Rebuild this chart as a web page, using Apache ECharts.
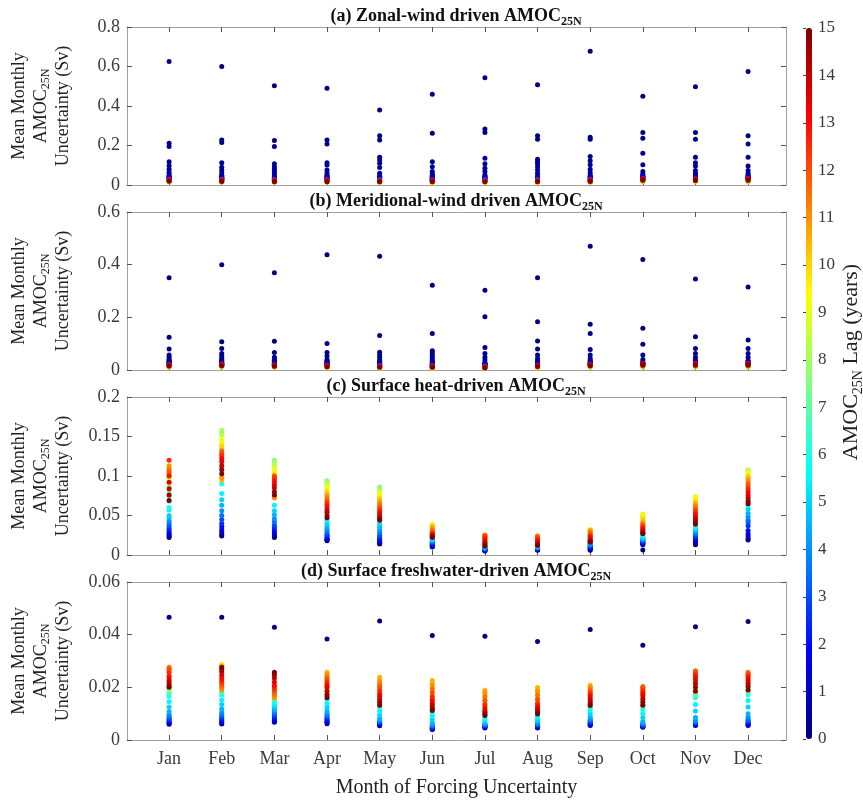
<!DOCTYPE html>
<html>
<head>
<meta charset="utf-8">
<script src="https://cdn.jsdelivr.net/npm/echarts@6/dist/echarts.min.js"></script>
<style>html,body{margin:0;padding:0;background:#fff}#c{width:863px;height:800px}</style>
</head>
<body>
<div id="c"></div>
<script>
const MONTHS = ['Jan','Feb','Mar','Apr','May','Jun','Jul','Aug','Sep','Oct','Nov','Dec'];
const MONTH_POS = [1,2,3,4,5,6,7,8,9,10,11,12];
const LAG_TICKS = [0,1,2,3,4,5,6,7,8,9,10,11,12,13,14,15];
// lags (years) for panels a, b
const LAG_AB = [0,0.08,0.17,0.25,0.33,0.42,0.5,0.58,0.67,0.75,0.83,0.92,1,2,3,4,5,6,7,8,9,10,11,12,13,14,15];
// lags (years) for panels c, d
const LAG_CD = [0,0.5,1,1.5,2,2.5,3,3.5,4,4.5,5,5.5,6,6.5,7,7.5,8,8.5,9,9.5,10,10.5,11,11.5,12,12.5,13,13.5,14,14.5,15];

const ZONAL = [
 [0.625,0.212,0.195,0.118,0.098,0.080,0.064,0.051,0.045,0.041,0.038,0.036,0.034,0.031,0.028,0.025,0.020,0.019,0.019,0.020,0.021,0.016,0.020,0.024,0.028,0.025,0.019],
 [0.600,0.228,0.215,0.113,0.090,0.076,0.062,0.049,0.045,0.041,0.038,0.036,0.034,0.031,0.028,0.025,0.019,0.018,0.018,0.019,0.020,0.015,0.019,0.023,0.027,0.024,0.018],
 [0.502,0.225,0.195,0.107,0.093,0.080,0.068,0.056,0.047,0.042,0.039,0.036,0.034,0.030,0.027,0.024,0.018,0.017,0.017,0.018,0.019,0.014,0.018,0.022,0.025,0.022,0.017],
 [0.490,0.228,0.208,0.113,0.101,0.076,0.062,0.051,0.045,0.041,0.038,0.036,0.034,0.030,0.027,0.024,0.018,0.017,0.017,0.018,0.019,0.014,0.018,0.022,0.026,0.023,0.017],
 [0.380,0.249,0.228,0.140,0.127,0.110,0.088,0.059,0.046,0.042,0.039,0.036,0.034,0.030,0.027,0.024,0.017,0.016,0.016,0.017,0.018,0.013,0.017,0.020,0.023,0.020,0.016],
 [0.460,0.262,0.118,0.093,0.068,0.056,0.048,0.044,0.041,0.038,0.036,0.034,0.032,0.029,0.026,0.023,0.017,0.016,0.016,0.017,0.018,0.013,0.017,0.021,0.024,0.021,0.016],
 [0.543,0.283,0.266,0.135,0.107,0.085,0.068,0.051,0.045,0.041,0.038,0.036,0.034,0.030,0.027,0.024,0.017,0.016,0.016,0.017,0.018,0.013,0.017,0.020,0.023,0.020,0.016],
 [0.508,0.249,0.232,0.130,0.118,0.107,0.093,0.076,0.059,0.046,0.040,0.036,0.034,0.030,0.027,0.024,0.017,0.016,0.016,0.017,0.018,0.013,0.017,0.020,0.023,0.020,0.016],
 [0.677,0.242,0.232,0.144,0.123,0.102,0.080,0.062,0.051,0.044,0.040,0.037,0.034,0.030,0.027,0.024,0.018,0.017,0.017,0.018,0.019,0.014,0.018,0.023,0.027,0.023,0.018],
 [0.450,0.266,0.237,0.161,0.102,0.068,0.056,0.048,0.044,0.041,0.038,0.036,0.034,0.031,0.028,0.025,0.021,0.020,0.020,0.021,0.022,0.016,0.021,0.027,0.033,0.030,0.024],
 [0.497,0.266,0.232,0.140,0.113,0.096,0.073,0.059,0.049,0.044,0.040,0.037,0.035,0.031,0.028,0.025,0.021,0.020,0.020,0.021,0.022,0.016,0.021,0.027,0.032,0.029,0.023],
 [0.575,0.249,0.208,0.140,0.096,0.073,0.059,0.050,0.045,0.041,0.038,0.036,0.034,0.031,0.028,0.025,0.021,0.020,0.020,0.021,0.022,0.016,0.021,0.027,0.033,0.030,0.024]
];

const MERID = [
 [0.350,0.124,0.080,0.057,0.048,0.040,0.035,0.032,0.029,0.027,0.025,0.023,0.022,0.020,0.018,0.016,0.014,0.013,0.013,0.014,0.015,0.011,0.014,0.017,0.021,0.019,0.015],
 [0.400,0.107,0.082,0.063,0.053,0.044,0.038,0.034,0.031,0.028,0.026,0.024,0.022,0.020,0.018,0.016,0.015,0.014,0.014,0.015,0.016,0.012,0.015,0.019,0.023,0.020,0.016],
 [0.369,0.109,0.066,0.048,0.040,0.036,0.033,0.030,0.028,0.026,0.024,0.022,0.021,0.019,0.017,0.015,0.013,0.012,0.012,0.013,0.014,0.010,0.013,0.016,0.020,0.018,0.014],
 [0.438,0.101,0.066,0.053,0.040,0.035,0.032,0.029,0.027,0.025,0.023,0.022,0.021,0.019,0.017,0.015,0.012,0.011,0.011,0.012,0.013,0.009,0.012,0.015,0.018,0.016,0.012],
 [0.432,0.131,0.067,0.057,0.048,0.038,0.033,0.030,0.027,0.025,0.023,0.021,0.020,0.018,0.016,0.014,0.010,0.009,0.009,0.010,0.011,0.007,0.010,0.012,0.015,0.013,0.010],
 [0.322,0.139,0.073,0.066,0.057,0.048,0.040,0.034,0.030,0.027,0.024,0.022,0.020,0.018,0.016,0.014,0.010,0.009,0.009,0.010,0.011,0.007,0.010,0.012,0.015,0.013,0.010],
 [0.303,0.202,0.085,0.063,0.048,0.038,0.028,0.026,0.024,0.022,0.021,0.020,0.019,0.017,0.015,0.013,0.009,0.008,0.008,0.009,0.010,0.006,0.008,0.010,0.013,0.011,0.008],
 [0.350,0.183,0.110,0.080,0.057,0.044,0.034,0.030,0.027,0.025,0.023,0.022,0.021,0.019,0.017,0.015,0.012,0.011,0.011,0.012,0.013,0.009,0.012,0.015,0.019,0.017,0.013],
 [0.470,0.174,0.139,0.078,0.057,0.044,0.036,0.032,0.029,0.027,0.025,0.023,0.022,0.020,0.018,0.016,0.014,0.013,0.013,0.014,0.015,0.011,0.014,0.018,0.022,0.020,0.016],
 [0.420,0.159,0.098,0.057,0.040,0.031,0.028,0.026,0.024,0.023,0.022,0.021,0.020,0.018,0.016,0.014,0.015,0.014,0.014,0.015,0.016,0.012,0.015,0.020,0.025,0.023,0.018],
 [0.346,0.126,0.082,0.063,0.048,0.038,0.033,0.030,0.028,0.026,0.024,0.022,0.021,0.019,0.017,0.015,0.015,0.014,0.014,0.015,0.016,0.012,0.015,0.020,0.025,0.023,0.018],
 [0.315,0.114,0.082,0.063,0.048,0.036,0.032,0.029,0.027,0.025,0.023,0.022,0.021,0.019,0.017,0.015,0.015,0.014,0.014,0.015,0.016,0.012,0.015,0.020,0.025,0.023,0.018]
];

const HEAT = [
 [0.022,0.024,0.026,0.028,0.031,0.034,0.037,0.040,0.043,0.047,0.050,0.057,0.060,0.068,0.074,0.080,0.086,0.092,0.097,0.102,0.106,0.110,0.113,0.108,0.104,0.120,0.100,0.092,0.084,0.076,0.069],
 [0.024,0.026,0.029,0.032,0.036,0.040,0.045,0.050,0.056,0.063,0.070,0.078,0.090,0.110,0.135,0.155,0.158,0.152,0.146,0.142,0.138,0.095,0.098,0.132,0.129,0.126,0.122,0.118,0.113,0.108,0.103],
 [0.022,0.024,0.026,0.029,0.032,0.035,0.038,0.042,0.046,0.051,0.056,0.063,0.075,0.095,0.112,0.120,0.118,0.114,0.110,0.106,0.102,0.074,0.072,0.098,0.100,0.097,0.093,0.089,0.085,0.080,0.076],
 [0.018,0.019,0.020,0.021,0.023,0.025,0.027,0.030,0.033,0.036,0.040,0.044,0.055,0.075,0.090,0.094,0.092,0.089,0.086,0.083,0.080,0.077,0.074,0.071,0.068,0.065,0.062,0.058,0.054,0.050,0.047],
 [0.014,0.015,0.016,0.018,0.020,0.022,0.025,0.028,0.031,0.035,0.039,0.043,0.052,0.070,0.082,0.086,0.084,0.081,0.078,0.075,0.072,0.069,0.066,0.063,0.060,0.057,0.054,0.051,0.048,0.046,0.044],
 [0.010,0.011,0.012,0.013,0.014,0.015,0.016,0.017,0.018,0.019,0.020,0.021,0.023,0.027,0.031,0.034,0.036,0.038,0.039,0.038,0.037,0.035,0.033,0.031,0.029,0.027,0.026,0.025,0.024,0.023,0.022],
 [0.005,0.0055,0.006,0.0065,0.007,0.0075,0.008,0.0085,0.009,0.0095,0.010,0.011,0.012,0.014,0.016,0.018,0.019,0.020,0.021,0.022,0.023,0.024,0.025,0.025,0.024,0.022,0.020,0.017,0.015,0.013,0.011],
 [0.006,0.0065,0.007,0.0075,0.008,0.0085,0.009,0.0095,0.010,0.0105,0.011,0.012,0.013,0.015,0.017,0.019,0.020,0.021,0.022,0.023,0.024,0.024,0.024,0.023,0.022,0.020,0.018,0.016,0.014,0.013,0.012],
 [0.006,0.007,0.008,0.009,0.010,0.011,0.012,0.013,0.014,0.015,0.016,0.017,0.019,0.022,0.025,0.027,0.029,0.030,0.031,0.032,0.032,0.031,0.030,0.028,0.026,0.024,0.022,0.020,0.018,0.017,0.016],
 [0.0063,0.013,0.014,0.015,0.016,0.017,0.018,0.019,0.020,0.021,0.022,0.024,0.026,0.031,0.038,0.044,0.048,0.051,0.052,0.050,0.046,0.042,0.040,0.039,0.037,0.035,0.033,0.031,0.029,0.028,0.027],
 [0.013,0.015,0.017,0.019,0.021,0.023,0.025,0.027,0.029,0.031,0.033,0.035,0.037,0.045,0.056,0.064,0.069,0.072,0.074,0.072,0.068,0.065,0.063,0.060,0.057,0.054,0.051,0.048,0.045,0.042,0.039],
 [0.019,0.021,0.024,0.027,0.031,0.037,0.041,0.044,0.048,0.053,0.058,0.063,0.070,0.085,0.098,0.105,0.108,0.107,0.105,0.102,0.100,0.097,0.094,0.091,0.088,0.084,0.080,0.076,0.072,0.068,0.065]
];

const FRESH = [
 [0.0466,0.0060,0.0064,0.0068,0.0073,0.0078,0.0084,0.0090,0.0097,0.0108,0.0125,0.0145,0.0165,0.0178,0.0186,0.0190,0.0196,0.0205,0.0215,0.0228,0.0242,0.0258,0.0270,0.0276,0.0268,0.0255,0.0240,0.0228,0.0218,0.0208,0.0200],
 [0.0466,0.0061,0.0065,0.0070,0.0076,0.0082,0.0089,0.0096,0.0104,0.0118,0.0135,0.0152,0.0170,0.0180,0.0200,0.0220,0.0240,0.0260,0.0275,0.0288,0.0284,0.0280,0.0190,0.0200,0.0210,0.0220,0.0232,0.0245,0.0258,0.0268,0.0276],
 [0.0428,0.0067,0.0071,0.0076,0.0082,0.0089,0.0096,0.0103,0.0110,0.0118,0.0127,0.0136,0.0146,0.0155,0.0162,0.0170,0.0178,0.0186,0.0194,0.0200,0.0205,0.0210,0.0160,0.0172,0.0184,0.0196,0.0206,0.0220,0.0235,0.0248,0.0257],
 [0.0384,0.0062,0.0066,0.0071,0.0077,0.0083,0.0089,0.0095,0.0101,0.0110,0.0125,0.0140,0.0155,0.0165,0.0175,0.0185,0.0195,0.0205,0.0215,0.0228,0.0242,0.0257,0.0250,0.0240,0.0230,0.0220,0.0210,0.0200,0.0185,0.0172,0.0160],
 [0.0452,0.0054,0.0057,0.0060,0.0063,0.0066,0.0069,0.0072,0.0076,0.0082,0.0095,0.0110,0.0125,0.0135,0.0145,0.0155,0.0165,0.0175,0.0188,0.0202,0.0220,0.0238,0.0225,0.0212,0.0200,0.0188,0.0176,0.0165,0.0153,0.0142,0.0132],
 [0.0397,0.0040,0.0042,0.0044,0.0046,0.0048,0.0051,0.0054,0.0058,0.0065,0.0078,0.0092,0.0105,0.0115,0.0130,0.0145,0.0160,0.0175,0.0190,0.0205,0.0218,0.0226,0.0210,0.0195,0.0180,0.0165,0.0152,0.0140,0.0130,0.0120,0.0112],
 [0.0394,0.0046,0.0048,0.0050,0.0052,0.0054,0.0056,0.0058,0.0061,0.0065,0.0072,0.0080,0.0087,0.0095,0.0105,0.0115,0.0125,0.0135,0.0148,0.0160,0.0175,0.0189,0.0180,0.0165,0.0150,0.0135,0.0122,0.0112,0.0105,0.0099,0.0093],
 [0.0374,0.0046,0.0048,0.0050,0.0052,0.0055,0.0058,0.0061,0.0064,0.0070,0.0077,0.0085,0.0093,0.0102,0.0112,0.0122,0.0135,0.0148,0.0162,0.0176,0.0190,0.0199,0.0185,0.0170,0.0155,0.0140,0.0128,0.0120,0.0112,0.0105,0.0099],
 [0.0420,0.0055,0.0058,0.0061,0.0064,0.0068,0.0072,0.0076,0.0081,0.0088,0.0100,0.0112,0.0124,0.0128,0.0136,0.0145,0.0155,0.0165,0.0175,0.0186,0.0197,0.0208,0.0200,0.0192,0.0184,0.0176,0.0168,0.0158,0.0148,0.0139,0.0131],
 [0.0360,0.0048,0.0050,0.0052,0.0054,0.0056,0.0058,0.0061,0.0064,0.0070,0.0085,0.0100,0.0115,0.0125,0.0133,0.0141,0.0149,0.0157,0.0165,0.0173,0.0181,0.0189,0.0197,0.0203,0.0198,0.0188,0.0178,0.0168,0.0156,0.0144,0.0132],
 [0.0430,0.0055,0.0057,0.0059,0.0061,0.0064,0.0067,0.0070,0.0074,0.0085,0.0110,0.0135,0.0160,0.0170,0.0174,0.0180,0.0190,0.0200,0.0210,0.0220,0.0232,0.0245,0.0255,0.0263,0.0258,0.0250,0.0240,0.0228,0.0215,0.0200,0.0185],
 [0.0450,0.0055,0.0058,0.0061,0.0065,0.0069,0.0074,0.0080,0.0087,0.0100,0.0125,0.0150,0.0172,0.0180,0.0186,0.0192,0.0198,0.0205,0.0212,0.0220,0.0230,0.0240,0.0250,0.0257,0.0252,0.0245,0.0236,0.0226,0.0215,0.0203,0.0190]
];

const PANEL_TITLES = [
  '(a) Zonal-wind driven AMOC{sub|25N}',
  '(b) Meridional-wind driven AMOC{sub|25N}',
  '(c) Surface heat-driven AMOC{sub|25N}',
  '(d) Surface freshwater-driven AMOC{sub|25N}'
];
const Y_MAX = [0.8, 0.6, 0.2, 0.06];
const Y_STEP = [0.2, 0.2, 0.05, 0.02];
const PANEL_DATA = [ZONAL, MERID, HEAT, FRESH];
const PANEL_LAGS = [LAG_AB, LAG_AB, LAG_CD, LAG_CD];

const JET = ['#000080','#0000ff','#0080ff','#00ffff','#80ff80','#ffff00','#ff8000','#ff0000','#800000'];
const SERIF = '"Liberation Serif","Times New Roman",serif';
const TXT = '#3a3a3a';
const LINE = '#a0a0a0';

const G_LEFT = 126, G_W = 660, G_H = 158, G_TOP0 = 27, G_STEP = 185;

function pts(vals, lags) {
  const out = [];
  for (let m = 0; m < vals.length; m++) {
    for (let k = 0; k < vals[m].length; k++) out.push([MONTH_POS[m], vals[m][k], lags[k]]);
  }
  return out;
}

const grids = [], xAxes = [], yAxes = [], series = [], titles = [];
for (let i = 0; i < 4; i++) {
  const top = G_TOP0 + i * G_STEP;
  grids.push({left: G_LEFT, top: top, width: G_W, height: G_H, show: false});
  const last = i === 3;
  xAxes.push({
    gridIndex: i, type: 'value', min: 0.2, max: 12.72, position: 'bottom',
    axisLine: {show: true, onZero: false, lineStyle: {color: LINE, width: 1}},
    axisTick: {show: true, inside: true, length: 5, customValues: MONTH_POS, lineStyle: {color: '#555'}},
    axisLabel: {show: last, customValues: MONTH_POS, formatter: v => MONTHS[Math.round(v) - 1] || '',
      fontFamily: SERIF, fontSize: 18, color: TXT, margin: 10},
    splitLine: {show: false},
    name: last ? 'Month of Forcing Uncertainty' : '', nameLocation: 'middle', nameGap: 38,
    nameTextStyle: {fontFamily: SERIF, fontSize: 20, color: '#222'}
  });
  xAxes.push({
    gridIndex: i, type: 'value', min: 0.2, max: 12.72, position: 'top',
    axisLine: {show: true, onZero: false, lineStyle: {color: LINE, width: 1}},
    axisTick: {show: true, inside: true, length: 5, customValues: MONTH_POS, lineStyle: {color: '#555'}},
    axisLabel: {show: false}, splitLine: {show: false}
  });
  yAxes.push({
    gridIndex: i, type: 'value', min: 0, max: Y_MAX[i], interval: Y_STEP[i], position: 'left',
    axisLine: {show: true, onZero: false, lineStyle: {color: LINE, width: 1}},
    axisTick: {show: true, inside: true, length: 5, lineStyle: {color: '#555'}},
    axisLabel: {fontFamily: SERIF, fontSize: 18, color: TXT, margin: 7},
    splitLine: {show: false},
    name: 'Mean Monthly\nAMOC{sub|25N}\nUncertainty (Sv)', nameLocation: 'middle', nameRotate: 90, nameGap: 53,
    nameTextStyle: {fontFamily: SERIF, fontSize: 18, color: '#222', lineHeight: 22, align: 'center',
      rich: {sub: {fontFamily: SERIF, fontSize: 12, color: '#222', lineHeight: 12, verticalAlign: 'bottom'}}}
  });
  yAxes.push({
    gridIndex: i, type: 'value', min: 0, max: Y_MAX[i], interval: Y_STEP[i], position: 'right',
    axisLine: {show: true, onZero: false, lineStyle: {color: LINE, width: 1}},
    axisTick: {show: true, inside: true, length: 5, lineStyle: {color: '#555'}},
    axisLabel: {show: false}, splitLine: {show: false}
  });
  series.push({
    type: 'scatter', xAxisIndex: 2 * i, yAxisIndex: 2 * i, symbolSize: 5,
    itemStyle: {opacity: 1},
    data: pts(PANEL_DATA[i], PANEL_LAGS[i]), silent: true, animation: false
  });
  titles.push({
    text: PANEL_TITLES[i], left: G_LEFT + G_W / 2, top: top - 23, textAlign: 'center', padding: 0,
    textStyle: {fontFamily: SERIF, fontWeight: 'bold', fontSize: 18, color: '#111', lineHeight: 24,
      rich: {sub: {fontFamily: SERIF, fontWeight: 'bold', fontSize: 12, color: '#111', lineHeight: 12, verticalAlign: 'bottom'}}}
  });
}
// colorbar axis
grids.push({left: 806, top: 28, width: 6, height: 711, show: false});
xAxes.push({gridIndex: 4, type: 'value', min: 0, max: 1, show: false});
yAxes.push({
  gridIndex: 4, type: 'value', min: 0, max: 15, interval: 1, position: 'right',
  axisLine: {show: false},
  axisTick: {show: true, inside: true, length: 3, lineStyle: {color: '#444'}},
  axisLabel: {fontFamily: SERIF, fontSize: 17, color: TXT, margin: 6, customValues: LAG_TICKS},
  splitLine: {show: false}
});

const chart = echarts.init(document.getElementById('c'), null, {renderer: 'canvas'});
chart.setOption({
  backgroundColor: '#fff',
  animation: false,
  title: titles,
  grid: grids,
  xAxis: xAxes,
  yAxis: yAxes,
  visualMap: {
    type: 'continuous', min: 0, max: 15, dimension: 2, seriesIndex: [0, 1, 2, 3],
    inRange: {color: JET}, orient: 'vertical', left: 806, top: 28, itemWidth: 6, itemHeight: 711,
    calculable: false, hoverLink: false, padding: 0, show: true
  },
  graphic: [{
    type: 'text', x: 851, y: 362, rotation: Math.PI / 2,
    style: {text: 'AMOC{sub|25N} Lag (years)', fontFamily: SERIF, fontSize: 22, fill: '#222',
      align: 'center', verticalAlign: 'middle', lineHeight: 28,
      rich: {sub: {fontFamily: SERIF, fontSize: 14, fill: '#222', lineHeight: 14, verticalAlign: 'bottom'}}}
  }],
  series: series
});
</script>
</body>
</html>
